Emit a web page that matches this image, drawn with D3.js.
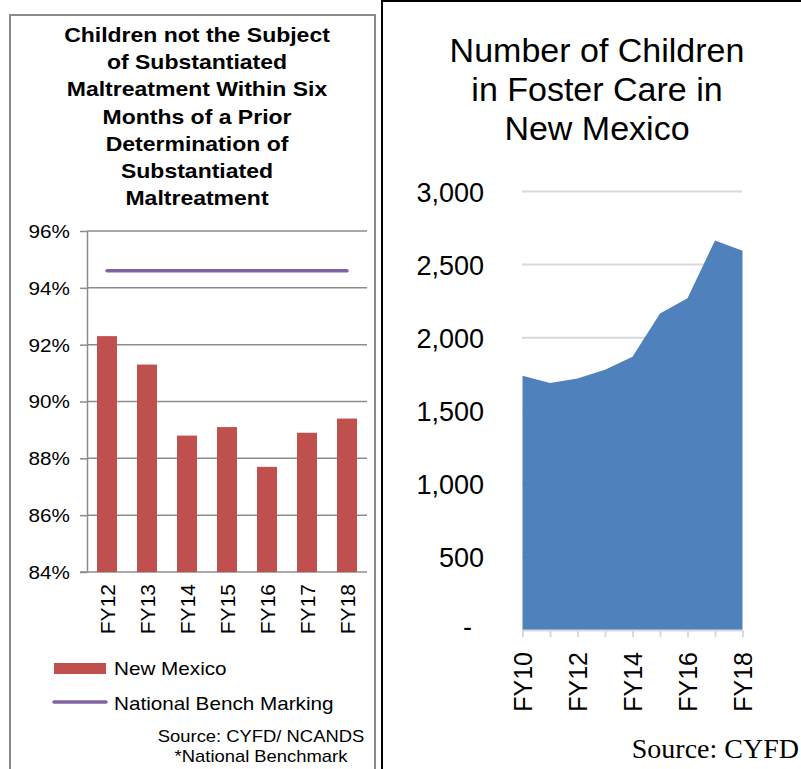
<!DOCTYPE html>
<html>
<head>
<meta charset="utf-8">
<script src="https://cdn.jsdelivr.net/npm/d3@7"></script>
<style>
  body { margin: 0; background: #fff; }
  svg { display: block; }
</style>
</head>
<body>
<div id="container"></div>
<script>
// left chart data
const leftYears = ["FY12", "FY13", "FY14", "FY15", "FY16", "FY17", "FY18"];
const newMexico = [92.3, 91.3, 88.8, 89.1, 87.7, 88.9, 89.4];
const benchmark = [94.6, 94.6, 94.6, 94.6, 94.6, 94.6, 94.6];
const leftTicks = [84, 86, 88, 90, 92, 94, 96];
const leftTitle = ["Children not the Subject", "of Substantiated", "Maltreatment Within Six",
    "Months of a Prior", "Determination of", "Substantiated", "Maltreatment"];

// right chart data
const rightYears = ["FY10", "FY11", "FY12", "FY13", "FY14", "FY15", "FY16", "FY17", "FY18"];
const fosterCare = [1740, 1690, 1720, 1780, 1870, 2165, 2270, 2665, 2595];
const rightTicks = [0, 500, 1000, 1500, 2000, 2500, 3000];
const rightLabels = ["FY10", "FY12", "FY14", "FY16", "FY18"];
const rightTitle = ["Number  of Children", "in Foster Care in", "New Mexico"];

const svg = d3.select("#container")
    .append("svg")
    .attr("width", 801)
    .attr("height", 769);

const sx = 1.15; // left panel text is a bit wide

// stretched text helper
const stretched = (parent, x, y, txt, size, anchor, weight) => {
    const g = parent.append("g").attr("transform", "translate(" + x + "," + y + ") scale(" + sx + ",1)");
    g.append("text")
        .attr("text-anchor", anchor)
        .attr("font-family", "Liberation Sans, Arial, sans-serif")
        .attr("font-size", size)
        .attr("font-weight", weight || "normal")
        .attr("fill", "#000")
        .text(txt);
    return g;
};

// ---------- left panel ----------
const left = svg.append("g");
left.append("rect")
    .attr("x", 10).attr("y", 15)
    .attr("width", 365).attr("height", 800)
    .attr("fill", "none")
    .attr("stroke", "#8a8a8a")
    .attr("stroke-width", 2);

leftTitle.forEach((t, i) => {
    stretched(left, 197, 42 + i * 27.2, t, 20, "middle", "bold");
});

const xL = d3.scaleBand().domain(leftYears).range([87, 367]).paddingInner(0.5).paddingOuter(0.25);
const yL = d3.scaleLinear().domain([84, 96]).range([572, 231]);

left.selectAll(".grid").data(leftTicks.slice(1))
    .enter()
    .append("line")
    .attr("class", "grid")
    .attr("x1", 87).attr("x2", 367)
    .attr("y1", d => yL(d)).attr("y2", d => yL(d))
    .attr("stroke", "#8c8c8c")
    .attr("stroke-width", 1.5);

const yAxisL = left.append("g")
    .attr("transform", "translate(87,0)")
    .call(d3.axisLeft(yL).tickValues(leftTicks).tickFormat(d => d + "%").tickSize(7).tickSizeOuter(0));
yAxisL.select(".domain").attr("stroke", "#8c8c8c").attr("stroke-width", 1.5);
yAxisL.selectAll(".tick line").attr("stroke", "#8c8c8c").attr("stroke-width", 1.5);
yAxisL.selectAll(".tick text")
    .attr("font-family", "Liberation Sans, Arial, sans-serif")
    .attr("font-size", 18)
    .attr("fill", "#000")
    .attr("x", -17 / sx)
    .attr("dy", "0.36em")
    .attr("transform", "scale(" + sx + ",1)");

left.append("line")
    .attr("x1", 80).attr("x2", 367)
    .attr("y1", yL(84)).attr("y2", yL(84))
    .attr("stroke", "#8c8c8c")
    .attr("stroke-width", 1.5);

left.selectAll(".bar").data(newMexico)
    .enter()
    .append("rect")
    .attr("class", "bar")
    .attr("x", (d, i) => xL(leftYears[i]))
    .attr("width", xL.bandwidth())
    .attr("y", d => yL(d))
    .attr("height", d => yL(84) - yL(d))
    .attr("fill", "#C0504D");

const benchLine = d3.line()
    .x((d, i) => xL(leftYears[i]) + xL.bandwidth() / 2)
    .y(d => yL(d));
left.append("path")
    .datum(benchmark)
    .attr("d", benchLine)
    .attr("fill", "none")
    .attr("stroke", "#8064A2")
    .attr("stroke-width", 3.5)
    .attr("stroke-linecap", "round");

left.selectAll(".xlab").data(leftYears)
    .enter()
    .append("text")
    .attr("class", "xlab")
    .attr("transform", d => "translate(" + (xL(d) + xL.bandwidth() / 2 + 8) + ",584) rotate(-90)")
    .attr("text-anchor", "end")
    .attr("font-family", "Liberation Sans, Arial, sans-serif")
    .attr("font-size", 21)
    .attr("fill", "#000")
    .text(d => d);

// legend
left.append("rect")
    .attr("x", 54).attr("y", 663)
    .attr("width", 52).attr("height", 11)
    .attr("fill", "#C0504D");
stretched(left, 114, 675, "New Mexico", 18, "start");
left.append("line")
    .attr("x1", 54).attr("x2", 106)
    .attr("y1", 702).attr("y2", 702)
    .attr("stroke", "#8064A2")
    .attr("stroke-width", 3.5)
    .attr("stroke-linecap", "round");
stretched(left, 114, 710, "National Bench Marking", 18, "start");

stretched(left, 261, 742, "Source:  CYFD/ NCANDS", 16, "middle");
stretched(left, 261, 762, "*National Benchmark", 16, "middle");

// ---------- right panel ----------
const right = svg.append("g");
right.append("rect")
    .attr("x", 382).attr("y", 1)
    .attr("width", 500).attr("height", 800)
    .attr("fill", "#fff")
    .attr("stroke", "#000")
    .attr("stroke-width", 2);

right.selectAll(".title").data(rightTitle)
    .enter()
    .append("text")
    .attr("class", "title")
    .attr("x", 597)
    .attr("y", (d, i) => 62 + i * 39)
    .attr("text-anchor", "middle")
    .attr("font-family", "Liberation Sans, Arial, sans-serif")
    .attr("font-size", 34)
    .attr("fill", "#000")
    .text(d => d);

const xR = d3.scalePoint().domain(rightYears).range([522.5, 742.5]);
const yR = d3.scaleLinear().domain([0, 3000]).range([630, 191.5]);

right.selectAll(".grid").data(rightTicks.slice(1))
    .enter()
    .append("line")
    .attr("class", "grid")
    .attr("x1", 522).attr("x2", 742)
    .attr("y1", d => yR(d)).attr("y2", d => yR(d))
    .attr("stroke", "#D9D9D9")
    .attr("stroke-width", 2);

const area = d3.area()
    .x((d, i) => xR(rightYears[i]))
    .y0(yR(0))
    .y1(d => yR(d));
right.append("path")
    .datum(fosterCare)
    .attr("d", area)
    .attr("fill", "#4F81BD");

const yAxisR = right.append("g")
    .attr("transform", "translate(522,0)")
    .call(d3.axisLeft(yR).tickValues(rightTicks)
        .tickFormat(d => d === 0 ? "-" : d3.format(",")(d))
        .tickSize(0));
yAxisR.select(".domain").remove();
yAxisR.selectAll(".tick text")
    .attr("font-family", "Liberation Sans, Arial, sans-serif")
    .attr("font-size", 27)
    .attr("fill", "#000")
    .attr("x", -38)
    .attr("dy", "0.36em");
yAxisR.selectAll(".tick text").filter(d => d === 0).attr("x", -50).attr("dy", "0.2em");

const xAxisR = right.append("g")
    .attr("transform", "translate(0," + yR(0) + ")")
    .call(d3.axisBottom(xR).tickSize(7).tickSizeOuter(0).tickFormat(""));
xAxisR.select(".domain").attr("stroke", "#D9D9D9").attr("stroke-width", 2);
xAxisR.selectAll(".tick line").attr("stroke", "#D9D9D9").attr("stroke-width", 2);

right.selectAll(".xlab").data(rightLabels)
    .enter()
    .append("text")
    .attr("class", "xlab")
    .attr("transform", d => "translate(" + (xR(d) + 9) + ",652) rotate(-90)")
    .attr("text-anchor", "end")
    .attr("font-family", "Liberation Sans, Arial, sans-serif")
    .attr("font-size", 25)
    .attr("fill", "#000")
    .text(d => d);

right.append("text")
    .attr("x", 799)
    .attr("y", 758)
    .attr("text-anchor", "end")
    .attr("font-family", "Liberation Serif, Times New Roman, serif")
    .attr("font-size", 28)
    .attr("fill", "#000")
    .text("Source: CYFD");
</script>
</body>
</html>
